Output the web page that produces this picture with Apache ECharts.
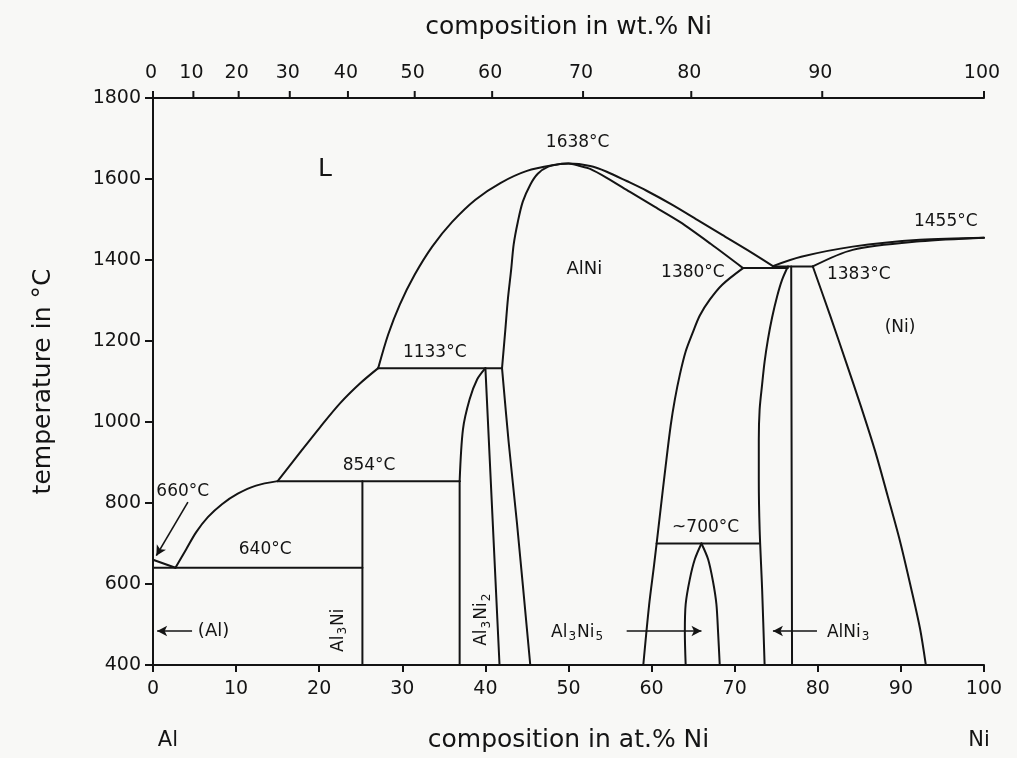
<!DOCTYPE html>
<html><head><meta charset="utf-8">
<script src="https://cdn.jsdelivr.net/npm/echarts@6/dist/echarts.min.js"></script>
<style>html,body{margin:0;padding:0;background:#f8f8f6;} #c{width:1017px;height:758px;}</style>
</head><body><div id="c"></div>
<script>
// ---------- DATA (composition in at.% Ni, temperature in °C) ----------
const tempTicks = [400, 600, 800, 1000, 1200, 1400, 1600, 1800];
const atTicks = [0, 10, 20, 30, 40, 50, 60, 70, 80, 90, 100];
const wtTickLabels = [0, 10, 20, 30, 40, 50, 60, 70, 80, 90, 100];
const massAl = 26.98, massNi = 58.69;

// liquidus
const liqAlEnd = [[0, 660], [2.7, 640]];
const liqAl3Ni = [[2.7, 640], [4.0, 686], [5.2, 728], [6.6, 765], [8.3, 797], [10.2, 823], [12.4, 843], [15.0, 854]];
const liqAl3Ni2 = [[15.0, 854], [17.7, 925], [20.1, 987], [22.5, 1046], [24.9, 1095], [27.1, 1133]];
const liqAlNi = [[27.1, 1133], [28.3, 1216], [29.7, 1290], [31.5, 1364], [33.6, 1433], [36.0, 1494], [38.8, 1549], [41.8, 1590], [45.0, 1620], [48.4, 1635], [50.0, 1638],
  [52.6, 1632], [54.6, 1618], [57.0, 1595], [59.4, 1571], [62.5, 1536], [65.5, 1499], [68.5, 1462], [71.5, 1425], [74.6, 1385]];
const liqNi = [[74.6, 1385], [78.0, 1408], [84.2, 1433], [92.3, 1450], [100, 1455]];
// solidus / solvus
const solNi = [[79.4, 1384], [84.2, 1425], [92.3, 1446], [100, 1455]];
const solvusNi = [[79.4, 1384], [81.5, 1262], [83.4, 1148], [85.2, 1038], [86.9, 928], [88.4, 818], [89.9, 705], [91.2, 592], [92.3, 490], [93.0, 400]];
const alNiDome = [[42.0, 1133], [42.4, 1228], [42.7, 1302], [43.1, 1376], [43.4, 1438], [43.9, 1494], [44.5, 1544], [45.4, 1586], [46.3, 1613], [47.5, 1630], [49.0, 1637], [50.0, 1638],
  [51.4, 1632], [52.6, 1625], [54.6, 1603], [57.4, 1568], [60.4, 1531], [63.4, 1494], [67.1, 1440], [71.0, 1380]];
const alNiLeftLow = [[42.0, 1133], [42.8, 950], [43.8, 750], [45.4, 400]];
const alNiRightLow = [[71.0, 1380], [68.5, 1339], [67.0, 1302], [65.8, 1263], [64.9, 1218], [64.1, 1174], [63.4, 1117], [62.8, 1056], [62.3, 992],
  [61.7, 893], [61.0, 770], [60.3, 647], [59.7, 548], [59.0, 400]];
const alNi3Left = [[76.4, 1384], [75.7, 1351], [75.1, 1310], [74.5, 1258], [74.0, 1204], [73.6, 1149], [73.3, 1093], [73.0, 1031], [72.9, 957], [72.9, 858], [73.0, 735], [73.3, 587], [73.6, 400]];
const alNi3Right = [[76.8, 1384], [76.9, 400]];
const al3Ni5Left = [[64.1, 400], [64.0, 481], [64.1, 550], [64.6, 612], [65.2, 661], [66.0, 700]];
const al3Ni5Right = [[66.0, 700], [66.8, 661], [67.4, 605], [67.8, 550], [68.0, 481], [68.2, 400]];
const al3Ni2LeftLow = [[36.9, 400], [36.9, 854]];
const al3Ni2LeftHigh = [[36.9, 854], [37.3, 982], [38.1, 1056], [39.0, 1105], [40.0, 1133]];
const al3Ni2Right = [[40.0, 1133], [41.7, 400]];
const al3Ni = [[25.2, 400], [25.2, 854]];
// invariant isotherms
const iso640 = [[0, 640], [25.2, 640]];
const iso854 = [[15.0, 854], [36.9, 854]];
const iso1133 = [[27.1, 1133], [42.0, 1133]];
const iso1380 = [[71.0, 1380], [76.4, 1380]];
const iso1383 = [[74.6, 1384], [79.4, 1384]];
const iso700 = [[60.6, 700], [72.9, 700]];

// annotation texts
const labelTexts = ['L', '1638°C', 'AlNi', '1380°C', '1383°C', '1455°C', '(Ni)', '1133°C', '854°C', '640°C', '660°C', '~700°C', '(Al)', '{a|Al}{s|3}{a|Ni}', '{a|Al}{s|3}{a|Ni}{s|2}', '{a|Al}{s|3}{a|Ni}{s|5}', '{a|AlNi}{s|3}', 'Al', 'Ni'];

// ---------- LAYOUT (placement of annotations, in data coordinates) ----------
const labelPlace = [
  [20.7, 1623, 'center', 0, 25], [51.1, 1689, 'center', 0, 17], [51.9, 1376, 'center', 0, 18],
  [68.8, 1369, 'right', 0, 17], [81.1, 1364, 'left', 0, 17], [95.4, 1494, 'center', 0, 17],
  [89.9, 1233, 'center', 0, 17], [33.9, 1171, 'center', 0, 17], [26.0, 893, 'center', 0, 17],
  [13.5, 686, 'center', 0, 17], [0.4, 829, 'left', 0, 17], [66.5, 740, 'center', 0, 17],
  [5.4, 484, 'left', 0, 18], [22.3, 486, 'center', 1, 17], [39.6, 513, 'center', 1, 17],
  [51.1, 481, 'center', 0, 17], [81.1, 481, 'left', 0, 17], [1.8, 213, 'center', 0, 21], [99.4, 213, 'center', 0, 21]
];
const arrows = [
  [[4.2, 802], [0.4, 670]],
  [[4.7, 484], [0.5, 484]],
  [[57.0, 484], [66.0, 484]],
  [[79.9, 484], [74.6, 484]]
];

const INK = '#141414';
const FONT = 'DejaVu Sans';

function wtToAt(w) {
  const n = w / massNi, a = (100 - w) / massAl;
  return 100 * n / (n + a);
}

function curve(data, smooth) {
  return {
    type: 'line', data: data, xAxisIndex: 0, yAxisIndex: 0,
    showSymbol: false, symbol: 'none', smooth: smooth ? 0.3 : false,
    lineStyle: { color: INK, width: 2, cap: 'round', join: 'round' },
    silent: true, animation: false, z: 3
  };
}

const curves = [
  [liqAlEnd, 0], [liqAl3Ni, 1], [liqAl3Ni2, 1], [liqAlNi, 1], [liqNi, 1], [solNi, 1], [solvusNi, 1],
  [alNiDome, 1], [alNiLeftLow, 1], [alNiRightLow, 1], [alNi3Left, 1], [alNi3Right, 0], [al3Ni5Left, 1], [al3Ni5Right, 1],
  [al3Ni2LeftLow, 0], [al3Ni2LeftHigh, 1], [al3Ni2Right, 0], [al3Ni, 0],
  [iso640, 0], [iso854, 0], [iso1133, 0], [iso1380, 0], [iso1383, 0], [iso700, 0]
];

const series = curves.map(c => curve(c[0], c[1]));

// arrows
series.push({
  type: 'line', data: [], xAxisIndex: 0, yAxisIndex: 0, silent: true, animation: false,
  markLine: {
    silent: true, animation: false, symbol: ['none', 'arrow'], symbolSize: [8, 10],
    label: { show: false },
    lineStyle: { color: INK, width: 1.6, type: 'solid' },
    data: arrows.map(a => [{ coord: a[0] }, { coord: a[1] }])
  }
});

// top wt.% axis ticks and labels
series.push({
  type: 'custom', xAxisIndex: 1, yAxisIndex: 0, silent: true, animation: false, clip: false,
  data: wtTickLabels.map((w, i) => [wtToAt(w), i]),
  renderItem: function (params, api) {
    const p = api.coord([api.value(0), 1800]);
    const lbl = String(wtTickLabels[api.value(1)]);
    return {
      type: 'group', children: [
        { type: 'line', shape: { x1: p[0], y1: p[1], x2: p[0], y2: p[1] - 7 }, style: { stroke: INK, lineWidth: 2 } },
        { type: 'text', x: p[0] - 2, y: p[1] - 25, style: { text: lbl, fill: INK, fontSize: 19, fontFamily: FONT, align: 'center', verticalAlign: 'middle' } }
      ]
    };
  }
});

// annotations
series.push({
  type: 'custom', xAxisIndex: 0, yAxisIndex: 0, silent: true, animation: false, clip: false, z: 5,
  data: labelPlace.map((p, i) => [p[0], p[1], i]),
  renderItem: function (params, api) {
    const i = api.value(2);
    const pl = labelPlace[i];
    const p = api.coord([api.value(0), api.value(1)]);
    const fs = pl[4];
    return {
      type: 'text', x: p[0], y: p[1], rotation: pl[3] ? Math.PI / 2 : 0,
      style: {
        text: labelTexts[i], fill: INK, fontSize: fs, fontFamily: FONT,
        align: pl[2], verticalAlign: 'middle',
        rich: {
          a: { fontSize: fs, fontFamily: FONT, fill: INK },
          s: { fontSize: Math.round(fs * 0.7), fontFamily: FONT, fill: INK, padding: [9, 1, 0, 1] }
        }
      }
    };
  }
});

const axisLineStyle = { show: true, lineStyle: { color: INK, width: 2 } };

const option = {
  backgroundColor: '#f8f8f6',
  animation: false,
  grid: { left: 153, right: 33, top: 98, bottom: 92 },
  xAxis: [
    {
      type: 'value', position: 'bottom', min: 0, max: 100, interval: 10,
      axisLine: axisLineStyle,
      axisTick: { show: true, inside: false, length: 7, lineStyle: { color: INK, width: 2 } },
      axisLabel: { color: INK, fontSize: 19, fontFamily: FONT, margin: 15, formatter: v => atTicks.includes(v) ? String(v) : '' },
      splitLine: { show: false },
      name: 'composition in at.% Ni', nameLocation: 'middle', nameGap: 63,
      nameTextStyle: { color: INK, fontSize: 25, fontFamily: FONT }
    },
    {
      type: 'value', position: 'top', min: 0, max: 100,
      axisLine: axisLineStyle, axisTick: { show: false }, axisLabel: { show: false }, splitLine: { show: false },
      name: 'composition in wt.% Ni', nameLocation: 'middle', nameGap: 58,
      nameTextStyle: { color: INK, fontSize: 25, fontFamily: FONT }
    }
  ],
  yAxis: [
    {
      type: 'value', position: 'left', min: 400, max: 1800, interval: 200,
      axisLine: axisLineStyle,
      axisTick: { show: true, inside: false, length: 8, lineStyle: { color: INK, width: 2 } },
      axisLabel: { color: INK, fontSize: 19, fontFamily: FONT, margin: 12, formatter: v => tempTicks.includes(v) ? String(v) : '' },
      splitLine: { show: false },
      name: 'temperature in °C', nameLocation: 'middle', nameGap: 97, nameRotate: 90,
      nameTextStyle: { color: INK, fontSize: 25, fontFamily: FONT }
    },
    {
      type: 'value', position: 'right', min: 400, max: 1800, interval: 200,
      axisLine: axisLineStyle, axisTick: { show: false }, axisLabel: { show: false }, splitLine: { show: false }
    }
  ],
  series: series
};

const chart = echarts.init(document.getElementById('c'), null, { renderer: 'canvas' });
chart.setOption(option);
</script>
</body></html>
